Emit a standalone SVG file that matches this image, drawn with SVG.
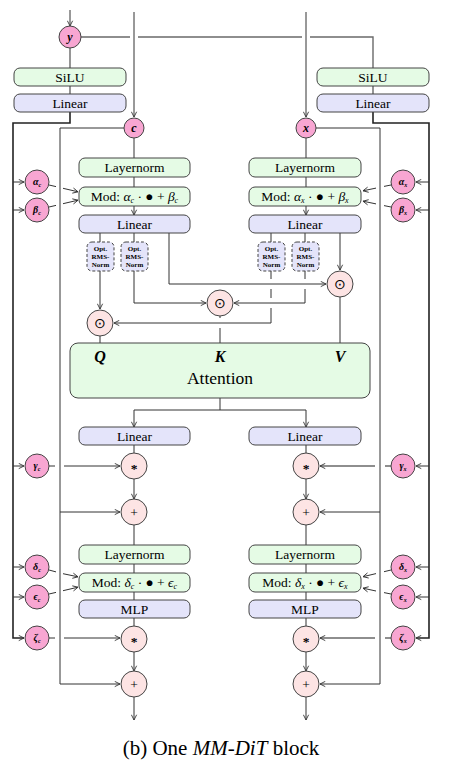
<svg xmlns="http://www.w3.org/2000/svg" width="458" height="776" viewBox="0 0 458 776">
<defs>
<marker id="a" viewBox="0 0 8 8" refX="7" refY="4" markerWidth="7" markerHeight="7" orient="auto" markerUnits="userSpaceOnUse">
<path d="M1,1 L7,4 L1,7" fill="none" stroke="#333" stroke-width="1"/>
</marker>
<style>
.ln{stroke:#333;stroke-width:1;fill:none}
.bus{stroke:#222;stroke-width:1.6;fill:none}
.gr{stroke:#6a6a6a;stroke-width:1.4;fill:none}
.gb{fill:#e5fbe5;stroke:#444;stroke-width:1}
.bb{fill:#e4e4fa;stroke:#444;stroke-width:1}
.ob{fill:#e4e4fa;stroke:#444;stroke-width:1;stroke-dasharray:3,2}
.pk{fill:#f8a6d2;stroke:#444;stroke-width:1}
.op{fill:#fde4e4;stroke:#444;stroke-width:1}
text{font-family:"Liberation Serif","Times New Roman",serif;fill:#000;text-anchor:middle}
.t{font-size:13.5px}
.m{font-style:italic}
.cl{font-style:italic;font-weight:bold;font-size:12px}
.cs{font-style:italic;font-weight:bold;font-size:10px}
.o{font-size:7px;font-weight:bold}
</style>
</defs>

<g id="connectors">
<path class="ln" d="M70,10 V26" marker-end="url(#a)"/>
<path class="ln" d="M134,12 V117" marker-end="url(#a)"/>
<path class="ln" d="M306,12 V117" marker-end="url(#a)"/>
<path class="gr" d="M81,37 H130 M138,37 H302 M310,37 H373 V68"/>
<path class="gr" d="M70,48 V68 M70,86 V94 M373,86 V94"/>
<path class="bus" d="M70,112 V123 H13 V638 H24" marker-end="url(#a)"/>
<path class="bus" d="M373,112 V123 H429 V638 H416" marker-end="url(#a)"/>
<path class="ln" d="M13,182 H24" marker-end="url(#a)"/>
<path class="ln" d="M13,210 H24" marker-end="url(#a)"/>
<path class="ln" d="M13,466 H24" marker-end="url(#a)"/>
<path class="ln" d="M13,567 H24" marker-end="url(#a)"/>
<path class="ln" d="M13,597 H24" marker-end="url(#a)"/>
<path class="ln" d="M429,182 H416" marker-end="url(#a)"/>
<path class="ln" d="M429,210 H416" marker-end="url(#a)"/>
<path class="ln" d="M429,466 H416" marker-end="url(#a)"/>
<path class="ln" d="M429,567 H416" marker-end="url(#a)"/>
<path class="ln" d="M429,597 H416" marker-end="url(#a)"/>
<path class="ln" d="M124,128 H60 V684 H120" marker-end="url(#a)"/>
<path class="ln" d="M60,512 H120" marker-end="url(#a)"/>
<path class="ln" d="M316,128 H380 V684 H320" marker-end="url(#a)"/>
<path class="ln" d="M380,512 H320" marker-end="url(#a)"/>
<path class="ln" d="M49,185 L56,186.6 M63,188.3 L78,191.8" marker-end="url(#a)"/>
<path class="ln" d="M49,207 L56,205.4 M63,203.7 L78,200.2" marker-end="url(#a)"/>
<path class="ln" d="M49,466 H55 M64,466 H120" marker-end="url(#a)"/>
<path class="ln" d="M49,570 L56,571.9 M63,573.7 L78,576.8" marker-end="url(#a)"/>
<path class="ln" d="M49,594 L56,592.4 M63,590.7 L78,587.2" marker-end="url(#a)"/>
<path class="ln" d="M49,638 H55 M64,638 H120" marker-end="url(#a)"/>
<path class="ln" d="M391,185 L384,186.4 M376,188.1 L363,190.8" marker-end="url(#a)"/>
<path class="ln" d="M391,207 L384,205.6 M376,203.9 L363,201.2" marker-end="url(#a)"/>
<path class="gr" d="M391,466 H385 M375,466 H320" marker-end="url(#a)"/>
<path class="ln" d="M391,570 L384,571.7 M376,573.6 L363,576.7" marker-end="url(#a)"/>
<path class="ln" d="M391,594 L384,592.6 M376,591 L363,588.2" marker-end="url(#a)"/>
<path class="gr" d="M391,638 H385 M375,638 H320" marker-end="url(#a)"/>
<path class="ln" d="M134,138 V158 M134,177 V187"/>
<path class="ln" d="M134,206 V215" marker-end="url(#a)"/>
<path class="ln" d="M306,138 V158 M306,177 V187"/>
<path class="ln" d="M306,206 V215" marker-end="url(#a)"/>
<path class="ln" d="M100,233 V242 M134,233 V242 M271,233 V242 M305,233 V242"/>
<path class="ln" d="M169,233 V284 H326" marker-end="url(#a)"/>
<path class="ln" d="M340,233 V270" marker-end="url(#a)"/>
<path class="ln" d="M100,271 V309" marker-end="url(#a)"/>
<path class="ln" d="M134,271 V303 H206" marker-end="url(#a)"/>
<path class="ln" d="M305,271 V279 M305,289 V303 H234" marker-end="url(#a)"/>
<path class="ln" d="M271,271 V279 M271,289 V298 M271,308 V323 H114" marker-end="url(#a)"/>
<path class="ln" d="M220,316 V318 M220,328 V343 M100,336 V343 M340,297 V343"/>
<path class="ln" d="M220,398 V410 M134,410 H306"/>
<path class="ln" d="M134,410 V427" marker-end="url(#a)"/>
<path class="ln" d="M306,410 V427" marker-end="url(#a)"/>
<path class="ln" d="M134,445 V453 M306,445 V453"/>
<path class="ln" d="M134,479 V499" marker-end="url(#a)"/>
<path class="ln" d="M306,479 V499" marker-end="url(#a)"/>
<path class="ln" d="M134,525 V545 M134,564 V573 M134,592 V600 M134,618 V626"/>
<path class="ln" d="M306,525 V545 M306,564 V573 M306,592 V600 M306,618 V626"/>
<path class="ln" d="M134,652 V671" marker-end="url(#a)"/>
<path class="ln" d="M306,652 V671" marker-end="url(#a)"/>
<path class="ln" d="M134,697 V720" marker-end="url(#a)"/>
<path class="ln" d="M306,697 V720" marker-end="url(#a)"/>
</g>

<g id="y"><circle class="pk" cx="70" cy="37" r="11"/><text class="cl" x="70" y="41">y</text></g>
<g id="silu-l"><rect class="gb" x="14" y="68" width="112" height="18" rx="6"/><text class="t" x="70" y="81.5">SiLU</text></g>
<g id="lin-l"><rect class="bb" x="14" y="94" width="112" height="18" rx="6"/><text class="t" x="70" y="107.5">Linear</text></g>
<g id="silu-r"><rect class="gb" x="317" y="68" width="112" height="18" rx="6"/><text class="t" x="373" y="81.5">SiLU</text></g>
<g id="lin-r"><rect class="bb" x="317" y="94" width="112" height="18" rx="6"/><text class="t" x="373" y="107.5">Linear</text></g>

<g id="c"><circle class="pk" cx="134" cy="128" r="10"/><text class="cl" x="134" y="132">c</text></g>
<g id="x"><circle class="pk" cx="306" cy="128" r="10"/><text class="cl" x="306" y="132">x</text></g>

<g id="ln1-l"><rect class="gb" x="79" y="158" width="111" height="19" rx="6"/><text class="t" x="134.5" y="172">Layernorm</text></g>
<g id="mod1-l"><rect class="gb" x="79" y="187" width="111" height="19" rx="6"/><text class="t" x="134.5" y="201">Mod: <tspan class="m">α</tspan><tspan class="m" font-size="8" dy="2">c</tspan><tspan dy="-2"> · ● + </tspan><tspan class="m">β</tspan><tspan class="m" font-size="8" dy="2">c</tspan></text></g>
<g id="lin1-l"><rect class="bb" x="79" y="215" width="111" height="18" rx="6"/><text class="t" x="134.5" y="228.5">Linear</text></g>
<g id="ln1-r"><rect class="gb" x="249" y="158" width="112" height="19" rx="6"/><text class="t" x="305" y="172">Layernorm</text></g>
<g id="mod1-r"><rect class="gb" x="249" y="187" width="112" height="19" rx="6"/><text class="t" x="305" y="201">Mod: <tspan class="m">α</tspan><tspan class="m" font-size="8" dy="2">x</tspan><tspan dy="-2"> · ● + </tspan><tspan class="m">β</tspan><tspan class="m" font-size="8" dy="2">x</tspan></text></g>
<g id="lin1-r"><rect class="bb" x="249" y="215" width="112" height="18" rx="6"/><text class="t" x="305" y="228.5">Linear</text></g>

<g id="alpha-c"><circle class="pk" cx="37" cy="182" r="12"/><text class="cs" x="37" y="185">α<tspan font-size="6" dy="1.5">c</tspan></text></g>
<g id="beta-c"><circle class="pk" cx="37" cy="210" r="12"/><text class="cs" x="37" y="213">β<tspan font-size="6" dy="1.5">c</tspan></text></g>
<g id="gamma-c"><circle class="pk" cx="37" cy="466" r="12"/><text class="cs" x="37" y="469">γ<tspan font-size="6" dy="1.5">c</tspan></text></g>
<g id="delta-c"><circle class="pk" cx="37" cy="567" r="12"/><text class="cs" x="37" y="570">δ<tspan font-size="6" dy="1.5">c</tspan></text></g>
<g id="eps-c"><circle class="pk" cx="37" cy="597" r="12"/><text class="cs" x="37" y="600">ϵ<tspan font-size="6" dy="1.5">c</tspan></text></g>
<g id="zeta-c"><circle class="pk" cx="37" cy="638" r="12"/><text class="cs" x="37" y="641">ζ<tspan font-size="6" dy="1.5">c</tspan></text></g>
<g id="alpha-x"><circle class="pk" cx="403" cy="182" r="12"/><text class="cs" x="403" y="185">α<tspan font-size="6" dy="1.5">x</tspan></text></g>
<g id="beta-x"><circle class="pk" cx="403" cy="210" r="12"/><text class="cs" x="403" y="213">β<tspan font-size="6" dy="1.5">x</tspan></text></g>
<g id="gamma-x"><circle class="pk" cx="403" cy="466" r="12"/><text class="cs" x="403" y="469">γ<tspan font-size="6" dy="1.5">x</tspan></text></g>
<g id="delta-x"><circle class="pk" cx="403" cy="567" r="12"/><text class="cs" x="403" y="570">δ<tspan font-size="6" dy="1.5">x</tspan></text></g>
<g id="eps-x"><circle class="pk" cx="403" cy="597" r="12"/><text class="cs" x="403" y="600">ϵ<tspan font-size="6" dy="1.5">x</tspan></text></g>
<g id="zeta-x"><circle class="pk" cx="403" cy="638" r="12"/><text class="cs" x="403" y="641">ζ<tspan font-size="6" dy="1.5">x</tspan></text></g>

<g id="opt1"><rect class="ob" x="87" y="242" width="27" height="29" rx="5"/><text class="o" x="100.5" y="251">Opt.</text><text class="o" x="100.5" y="259">RMS-</text><text class="o" x="100.5" y="267">Norm</text></g>
<g id="opt2"><rect class="ob" x="121" y="242" width="27" height="29" rx="5"/><text class="o" x="134.5" y="251">Opt.</text><text class="o" x="134.5" y="259">RMS-</text><text class="o" x="134.5" y="267">Norm</text></g>
<g id="opt3"><rect class="ob" x="258" y="242" width="27" height="29" rx="5"/><text class="o" x="271.5" y="251">Opt.</text><text class="o" x="271.5" y="259">RMS-</text><text class="o" x="271.5" y="267">Norm</text></g>
<g id="opt4"><rect class="ob" x="292" y="242" width="27" height="29" rx="5"/><text class="o" x="305.5" y="251">Opt.</text><text class="o" x="305.5" y="259">RMS-</text><text class="o" x="305.5" y="267">Norm</text></g>

<g id="dotV"><circle class="op" cx="340" cy="284" r="13"/><text class="t" x="340" y="289">⊙</text></g>
<g id="dotK"><circle class="op" cx="220" cy="303" r="13"/><text class="t" x="220" y="308">⊙</text></g>
<g id="dotQ"><circle class="op" cx="100" cy="323" r="13"/><text class="t" x="100" y="328">⊙</text></g>

<g id="attention"><rect class="gb" x="70" y="343" width="300" height="55" rx="8"/>
<text x="100" y="362" font-size="16" font-style="italic" font-weight="bold">Q</text>
<text x="220" y="362" font-size="16" font-style="italic" font-weight="bold">K</text>
<text x="340" y="362" font-size="16" font-style="italic" font-weight="bold">V</text>
<text x="220" y="384" font-size="17.5">Attention</text></g>

<g id="lin2-l"><rect class="bb" x="79" y="427" width="111" height="18" rx="6"/><text class="t" x="134.5" y="440.5">Linear</text></g>
<g id="lin2-r"><rect class="bb" x="249" y="427" width="112" height="18" rx="6"/><text class="t" x="305" y="440.5">Linear</text></g>
<g id="mul1-l"><circle class="op" cx="134" cy="466" r="13"/><text class="t" x="134" y="473" font-weight="bold">*</text></g>
<g id="mul1-r"><circle class="op" cx="306" cy="466" r="13"/><text class="t" x="306" y="473" font-weight="bold">*</text></g>
<g id="add1-l"><circle class="op" cx="134" cy="512" r="13"/><text class="t" x="134" y="517" font-size="15">+</text></g>
<g id="add1-r"><circle class="op" cx="306" cy="512" r="13"/><text class="t" x="306" y="517" font-size="15">+</text></g>

<g id="ln2-l"><rect class="gb" x="79" y="545" width="111" height="19" rx="6"/><text class="t" x="134.5" y="559">Layernorm</text></g>
<g id="mod2-l"><rect class="gb" x="79" y="573" width="111" height="19" rx="6"/><text class="t" x="134.5" y="587">Mod: <tspan class="m">δ</tspan><tspan class="m" font-size="8" dy="2">c</tspan><tspan dy="-2"> · ● + </tspan><tspan class="m">ϵ</tspan><tspan class="m" font-size="8" dy="2">c</tspan></text></g>
<g id="mlp-l"><rect class="bb" x="79" y="600" width="111" height="18" rx="6"/><text class="t" x="134.5" y="613.5">MLP</text></g>
<g id="ln2-r"><rect class="gb" x="249" y="545" width="112" height="19" rx="6"/><text class="t" x="305" y="559">Layernorm</text></g>
<g id="mod2-r"><rect class="gb" x="249" y="573" width="112" height="19" rx="6"/><text class="t" x="305" y="587">Mod: <tspan class="m">δ</tspan><tspan class="m" font-size="8" dy="2">x</tspan><tspan dy="-2"> · ● + </tspan><tspan class="m">ϵ</tspan><tspan class="m" font-size="8" dy="2">x</tspan></text></g>
<g id="mlp-r"><rect class="bb" x="249" y="600" width="112" height="18" rx="6"/><text class="t" x="305" y="613.5">MLP</text></g>
<g id="mul2-l"><circle class="op" cx="134" cy="639" r="13"/><text class="t" x="134" y="646" font-weight="bold">*</text></g>
<g id="mul2-r"><circle class="op" cx="306" cy="639" r="13"/><text class="t" x="306" y="646" font-weight="bold">*</text></g>
<g id="add2-l"><circle class="op" cx="134" cy="684" r="13"/><text class="t" x="134" y="689" font-size="15">+</text></g>
<g id="add2-r"><circle class="op" cx="306" cy="684" r="13"/><text class="t" x="306" y="689" font-size="15">+</text></g>

<text x="221" y="755" font-size="21">(b) One <tspan font-style="italic">MM-DiT</tspan> block</text>
</svg>
